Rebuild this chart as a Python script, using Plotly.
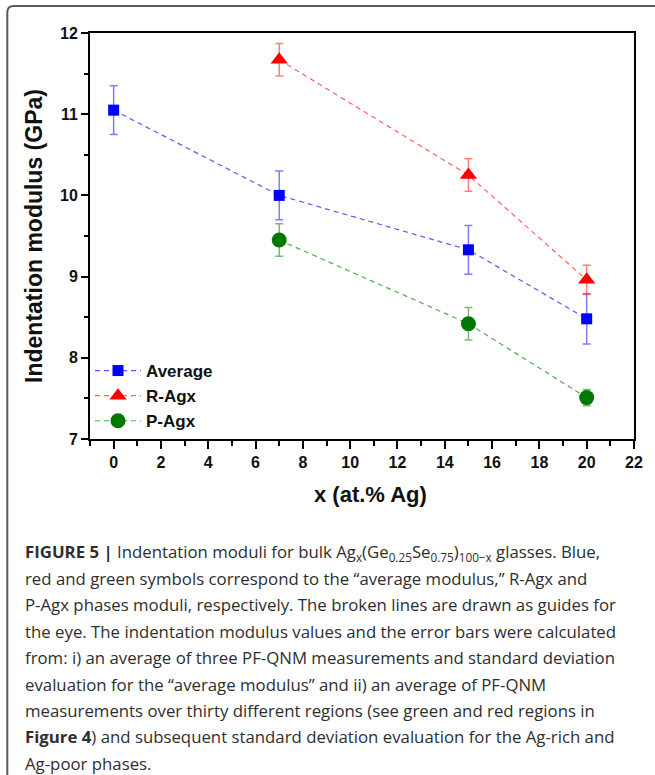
import plotly.graph_objects as go

# ---- data ----
x_avg = [0, 7, 15, 20]
y_avg = [11.05, 10.00, 9.33, 8.48]
e_avg = [0.30, 0.30, 0.30, 0.31]

x_r = [7, 15, 20]
y_r = [11.67, 10.25, 8.96]
e_r = [0.20, 0.20, 0.18]

x_p = [7, 15, 20]
y_p = [9.45, 8.42, 7.51]
e_p = [0.20, 0.20, 0.10]

names = ["Average", "R-Agx", "P-Agx"]
x_title = "x (at.% Ag)"
y_title = "Indentation modulus (GPa)"

caption_lines = [
    "<b>FIGURE 5 |</b> Indentation moduli for bulk Ag<sub>x</sub>(Ge<sub>0.25</sub>Se<sub>0.75</sub>)<sub>100\u2212x</sub> glasses. Blue,",
    "red and green symbols correspond to the \u201caverage modulus,\u201d R-Agx and",
    "P-Agx phases moduli, respectively. The broken lines are drawn as guides for",
    "the eye. The indentation modulus values and the error bars were calculated",
    "from: i) an average of three PF-QNM measurements and standard deviation",
    "evaluation for the \u201caverage modulus\u201d and ii) an average of PF-QNM",
    "measurements over thirty different regions (see green and red regions in",
    "<b>Figure 4</b>) and subsequent standard deviation evaluation for the Ag-rich and",
    "Ag-poor phases.",
]

# ---- layout geometry (pixels) ----
W, H = 655, 775
L, R, T, B = 90, 636, 33, 439
FONT = "Liberation Sans, Arial, sans-serif"
CAP_FONT = "Open Sans, Liberation Sans, sans-serif"


def px_x(px):
    return (px - L) / (R - L)


def px_y(py):
    return (B - py) / (B - T)


fig = go.Figure()

series = [
    (x_avg, y_avg, e_avg, "square", 11, "#0000ff", "rgba(60,60,255,0.85)", "rgba(40,40,255,0.6)"),
    (x_r, y_r, e_r, "triangle-up", 15, "#ff0000", "rgba(255,70,70,0.85)", "rgba(255,40,40,0.6)"),
    (x_p, y_p, e_p, "circle", 15, "#007700", "rgba(50,160,50,0.85)", "rgba(30,140,30,0.6)"),
]

for (xs, ys, es, sym, sz, mc, lc, ec), nm in zip(series, names):
    fig.add_trace(go.Scatter(
        x=xs, y=ys, name=nm, mode="lines+markers",
        line=dict(color=lc, width=1.2, dash="5px,4px"),
        marker=dict(symbol=sym, size=sz, color=mc, line=dict(width=0)),
        error_y=dict(type="data", array=es, visible=True, color=ec,
                     thickness=1.5, width=4),
    ))

axis_common = dict(
    showline=True, linewidth=2, linecolor="black", mirror=True,
    showgrid=False, zeroline=False, ticks="outside", tickwidth=2,
    tickcolor="black",
    tickfont=dict(family=FONT, size=16, color="#111", weight="bold"),
)

fig.update_xaxes(
    range=[-1, 22], tick0=0, dtick=2, ticklen=8,
    minor=dict(dtick=1, tick0=0, ticklen=5, tickwidth=2, ticks="outside",
               tickcolor="black", showgrid=False),
    **axis_common,
)
fig.update_yaxes(
    range=[7, 12], tick0=7, dtick=1, ticklen=7,
    minor=dict(dtick=0.5, tick0=7, ticklen=4, tickwidth=2, ticks="outside",
               tickcolor="black", showgrid=False),
    title=dict(text=y_title, standoff=11,
               font=dict(family=FONT, size=23, color="#111", weight="bold")),
    **axis_common,
)

# x-axis title placed as annotation
fig.add_annotation(
    x=px_x(372), y=px_y(494), xref="paper", yref="paper",
    xanchor="center", yanchor="middle", showarrow=False,
    text=x_title, font=dict(family=FONT, size=22, color="#111", weight="bold"),
)

# outer frame of the figure panel
x0, y0 = px_x(7), px_y(6)
x1, y1 = px_x(700), px_y(820)
rc = 0.012
fig.add_shape(
    type="path", xref="paper", yref="paper",
    path=(f"M {x0},{y1} L {x0},{y0 - rc*1.3} Q {x0},{y0} {x0 + rc},{y0} "
          f"L {x1},{y0}"),
    line=dict(color="#5a5a5a", width=2),
)

# caption
y_first, step = 552, 26.4
for i, txt in enumerate(caption_lines):
    fig.add_annotation(
        x=px_x(23), y=px_y(y_first + i * step), xref="paper", yref="paper",
        xanchor="left", yanchor="middle", showarrow=False, align="left",
        text=txt, font=dict(family=CAP_FONT, size=16.8, color="#2e2e2e"),
    )

fig.update_layout(
    width=W, height=H, autosize=False,
    margin=dict(l=L, r=W - R, t=T, b=H - B, pad=0),
    paper_bgcolor="white", plot_bgcolor="white",
    font=dict(family=FONT),
    showlegend=True,
    legend=dict(
        x=px_x(90), y=px_y(353), xanchor="left", yanchor="top",
        bgcolor="rgba(0,0,0,0)", borderwidth=0,
        font=dict(family=FONT, size=17, color="#111", weight="bold"),
        itemwidth=46, tracegroupgap=0,
    ),
)

fig.write_html("out.html")
